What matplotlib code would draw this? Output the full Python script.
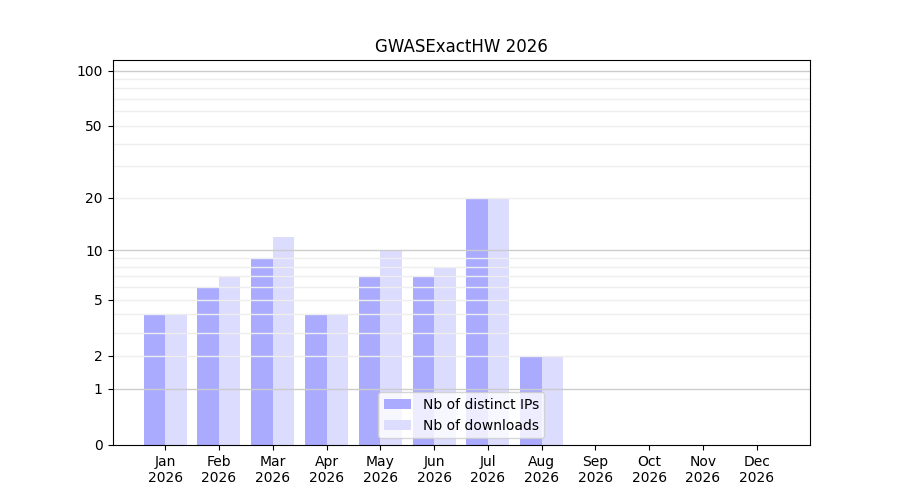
import numpy as np
import matplotlib
matplotlib.use('Agg')
import matplotlib.pyplot as plt

# monthly stats
months = ['Jan', 'Feb', 'Mar', 'Apr', 'May', 'Jun', 'Jul', 'Aug', 'Sep', 'Oct', 'Nov', 'Dec']
year = 2026
distinct_ips = [4, 6, 9, 4, 7, 7, 20, 2, 0, 0, 0, 0]
downloads = [4, 7, 12, 4, 10, 8, 20, 2, 0, 0, 0, 0]

major_ticks = [0, 1, 2, 5, 10, 20, 50, 100]
minor_ticks = [3, 4, 6, 7, 8, 9, 30, 40, 60, 70, 80, 90]


def fwd(v):
    return np.log10(1 + np.clip(v, 0, None))


def inv(v):
    return 10 ** v - 1


fig, ax = plt.subplots(figsize=(9, 5), dpi=100)
ax.set_yscale('function', functions=(fwd, inv))

x = np.arange(len(months))
ax.bar(x - 0.2, distinct_ips, width=0.4, color='#aaaaff', label='Nb of distinct IPs')
ax.bar(x + 0.2, downloads, width=0.4, color='#dcdcff', label='Nb of downloads')

# grid lines: decades darker, the rest faint
for v in major_ticks[1:] + minor_ticks:
    if v in (1, 10, 100):
        ax.axhline(v, color='#cccccc', lw=1, zorder=1.5)
    else:
        ax.axhline(v, color='#eeeeee', lw=1, zorder=1.5)

ax.set_yticks(major_ticks)
ax.set_yticklabels([str(t) for t in major_ticks])
ax.yaxis.set_minor_locator(matplotlib.ticker.NullLocator())
ax.set_ylim(0, 114)

ax.set_xticks(x)
ax.set_xticklabels([f'{m}\n{year}' for m in months])
ax.set_xlim(-0.98, 11.99)

ax.set_title(f'GWASExactHW {year}')
ax.legend(loc='lower center')

plt.savefig('out.png')
